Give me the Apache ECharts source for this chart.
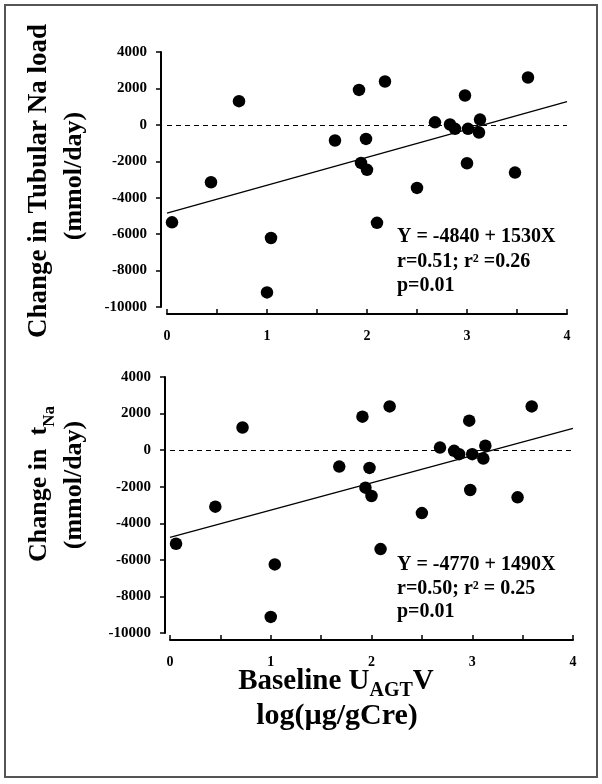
<!DOCTYPE html>
<html><head><meta charset="utf-8">
<script src="https://cdn.jsdelivr.net/npm/echarts@6/dist/echarts.min.js"></script>
<style>html,body{margin:0;padding:0;background:#fff}#c{width:602px;height:784px}</style>
</head><body><div id="c"></div>
<script>
// ---- data ----
const topX = [0.05, 0.44, 0.72, 1.04, 1.00, 1.68, 1.92, 2.18, 1.99, 1.94, 2.00, 2.10, 2.50, 2.68, 2.83, 2.88, 2.98, 3.01, 3.00, 3.13, 3.12, 3.48, 3.61];
const topY = [-5350, -3150, 1300, -6210, -9200, -860, 1920, 2380, -770, -2090, -2470, -5380, -3460, 140, 20, -220, 1610, -220, -2110, 290, -420, -2620, 2600];
const bottomX = [0.06, 0.45, 0.72, 1.04, 1.00, 1.68, 1.91, 2.18, 1.98, 1.94, 2.00, 2.09, 2.50, 2.68, 2.82, 2.87, 2.97, 3.00, 2.98, 3.13, 3.11, 3.45, 3.59];
const bottomY = [-5120, -3090, 1240, -6250, -9120, -900, 1830, 2390, -970, -2050, -2510, -5410, -3440, 140, -40, -220, 1610, -220, -2180, 240, -460, -2580, 2390];
const fitX = [0, 4];
const fitTopY = [-4840, 1280];
const fitBottomY = [-4770, 1190];
const xTickLabels = ['0', '1', '2', '3', '4'];
const yMin = -10000, yMax = 4000, yStep = 2000;
const xMin = 0, xMax = 4, xStep = 0.5;
const topStats = ['Y = -4840 + 1530X', 'r=0.51; r\u00B2 =0.26', 'p=0.01'];
const bottomStats = ['Y = -4770 + 1490X', 'r=0.50; r\u00B2 = 0.25', 'p=0.01'];

const FONT = '"Liberation Serif", "Times New Roman", serif';
const pairs = (xs, ys) => xs.map((x, i) => [x, ys[i]]);

function xAxis(gridIndex, offset) {
  return {
    type: 'value', gridIndex, min: xMin, max: xMax, interval: xStep, offset,
    axisLine: { show: true, onZero: false, lineStyle: { color: '#000', width: 2 } },
    axisTick: { show: true, inside: true, length: 5, lineStyle: { color: '#000', width: 1.5 } },
    axisLabel: { margin: 15, color: '#000', fontFamily: FONT, fontWeight: 'bold', fontSize: 14,
      formatter: v => (Number.isInteger(v) ? xTickLabels[v] : '') },
    splitLine: { show: false }
  };
}
function yAxis(gridIndex, offset) {
  return {
    type: 'value', gridIndex, min: yMin, max: yMax, interval: yStep, offset,
    axisLine: { show: true, onZero: false, lineStyle: { color: '#000', width: 2 } },
    axisTick: { show: true, inside: false, length: 5, lineStyle: { color: '#000', width: 1.5 } },
    axisLabel: { margin: 14, color: '#000', fontFamily: FONT, fontWeight: 'bold', fontSize: 15,
      formatter: v => String(v) },
    splitLine: { show: false }
  };
}
function seriesFor(idx, xs, ys, fy) {
  return [
    { type: 'scatter', xAxisIndex: idx, yAxisIndex: idx, data: pairs(xs, ys), symbolSize: 12.5,
      itemStyle: { color: '#000', opacity: 1 }, z: 3,
      markLine: { silent: true, symbol: 'none', label: { show: false },
        lineStyle: { color: '#000', type: [5, 4], width: 1 }, data: [{ yAxis: 0 }] } },
    { type: 'line', xAxisIndex: idx, yAxisIndex: idx, data: pairs(fitX, fy), showSymbol: false,
      symbol: 'none', lineStyle: { color: '#000', width: 1.3 }, z: 2 }
  ];
}
function statText(lines, x, y0, dy) {
  return lines.map((t, i) => ({
    type: 'text', x, y: y0 + i * dy,
    style: { text: t, fill: '#000', font: 'bold 20px ' + FONT, textAlign: 'left', textVerticalAlign: 'middle' }
  }));
}

const chart = echarts.init(document.getElementById('c'), null, { renderer: 'canvas' });
chart.setOption({
  animation: false,
  backgroundColor: '#fff',
  grid: [
    { left: 167, right: 35, top: 52, bottom: 477 },
    { left: 170, right: 29, top: 377, bottom: 151 }
  ],
  xAxis: [xAxis(0, 7), xAxis(1, 7)],
  yAxis: [yAxis(0, 6), yAxis(1, 5)],
  series: [...seriesFor(0, topX, topY, fitTopY), ...seriesFor(1, bottomX, bottomY, fitBottomY)],
  graphic: [
    { type: 'rect', shape: { x: 5, y: 5, width: 592, height: 772 },
      style: { fill: 'none', stroke: '#555', lineWidth: 2 } },
    { type: 'text', x: 39, y: 181, rotation: Math.PI / 2,
      style: { text: 'Change in Tubular Na load', fill: '#000', font: 'bold 27px ' + FONT,
        textAlign: 'center', textVerticalAlign: 'middle' } },
    { type: 'text', x: 74, y: 176, rotation: Math.PI / 2,
      style: { text: '(mmol/day)', fill: '#000', font: 'bold 26px ' + FONT,
        textAlign: 'center', textVerticalAlign: 'middle' } },
    { type: 'text', x: 42, y: 484, rotation: Math.PI / 2,
      style: { text: '{m|Change in  t}{s|Na}', textAlign: 'center', textVerticalAlign: 'middle',
        rich: {
          m: { fontFamily: FONT, fontWeight: 'bold', fontSize: 26, fill: '#000', color: '#000', lineHeight: 32, verticalAlign: 'top' },
          s: { fontFamily: FONT, fontWeight: 'bold', fontSize: 17, fill: '#000', color: '#000', lineHeight: 18, verticalAlign: 'bottom' }
        } } },
    { type: 'text', x: 74, y: 485, rotation: Math.PI / 2,
      style: { text: '(mmol/day)', fill: '#000', font: 'bold 26px ' + FONT,
        textAlign: 'center', textVerticalAlign: 'middle' } },
    { type: 'text', x: 336, y: 684,
      style: { text: '{m|Baseline U}{s|AGT}{m|V}', textAlign: 'center', textVerticalAlign: 'middle',
        rich: {
          m: { fontFamily: FONT, fontWeight: 'bold', fontSize: 29, fill: '#000', color: '#000', lineHeight: 34, verticalAlign: 'top' },
          s: { fontFamily: FONT, fontWeight: 'bold', fontSize: 20, fill: '#000', color: '#000', lineHeight: 20, verticalAlign: 'bottom' }
        } } },
    { type: 'text', x: 337, y: 716,
      style: { text: 'log(\u00B5g/gCre)', fill: '#000', font: 'bold 30px ' + FONT,
        textAlign: 'center', textVerticalAlign: 'middle' } },
    ...statText(topStats, 397, 237, 24.5),
    ...statText(bottomStats, 397, 565, 23.5)
  ]
});
</script></body></html>
